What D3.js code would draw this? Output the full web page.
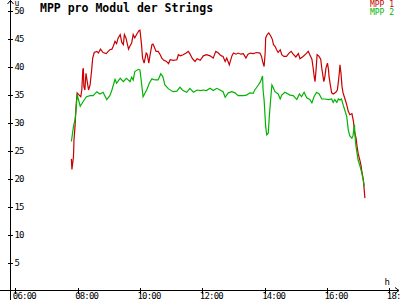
<!DOCTYPE html>
<meta charset="utf-8">
<script src="https://d3js.org/d3.v7.min.js"></script>
<style>
  body { margin: 0; background: #fff; }
  text { font-family: "DejaVu Sans Mono", monospace; }
</style>
<body>
<div id="chart"></div>
<script>
// MPP 1 (red) - times and values
var mpp1Times = ["07:48","07:49","07:52","07:53","07:55","07:57","07:59","08:03","08:06","08:08","08:10","08:11","08:12","08:14","08:16","08:19","08:21","08:24","08:27","08:29","08:32","08:37","08:40","08:44","08:49","08:55","08:59","09:02","09:06","09:09","09:12","09:15","09:18","09:22","09:25","09:28","09:30","09:33","09:36","09:38","09:41","09:44","09:47","09:50","09:54","09:58","10:00","10:03","10:05","10:08","10:12","10:14","10:17","10:19","10:23","10:25","10:27","10:31","10:35","10:39","10:42","10:46","10:51","10:55","10:58","11:04","11:11","11:14","11:18","11:23","11:29","11:33","11:36","11:41","11:46","11:50","11:56","12:02","12:08","12:15","12:21","12:26","12:31","12:34","12:37","12:40","12:44","12:47","12:52","12:57","13:00","13:05","13:09","13:14","13:19","13:24","13:28","13:33","13:38","13:45","13:51","13:54","13:56","13:59","14:01","14:02","14:05","14:08","14:12","14:15","14:17","14:20","14:23","14:26","14:30","14:33","14:37","14:42","14:47","14:51","14:55","15:00","15:05","15:08","15:14","15:20","15:24","15:27","15:31","15:33","15:35","15:37","15:39","15:41","15:44","15:48","15:50","15:52","15:54","15:56","15:58","16:01","16:03","16:04","16:07","16:09","16:12","16:17","16:20","16:22","16:24","16:25","16:27","16:29","16:31","16:35","16:38","16:41","16:44","16:48","16:51","16:53","16:56","16:58","17:00","17:04","17:06","17:07","17:10","17:12","17:13"];
var mpp1Values = [23.5,21.6,23.9,26.9,29.3,32.9,35.3,34.9,34.6,35.8,39.4,39.7,36.4,35.8,38.8,37.0,35.8,36.7,39.4,41.5,42.5,42.7,42.4,43.1,42.5,42.3,42.7,43.0,43.1,43.7,44.5,44.1,45.1,45.7,44.3,43.9,45.7,45.1,43.9,43.1,43.7,44.2,45.7,45.1,45.8,46.4,46.5,43.9,41.5,40.6,42.4,42.2,40.6,41.8,43.9,44.0,43.6,42.7,42.7,42.1,41.5,41.1,40.9,40.5,41.2,41.1,41.2,42.1,41.9,42.1,42.4,42.7,42.3,41.4,40.9,41.4,41.1,41.9,42.1,41.9,41.5,42.7,42.4,42.1,41.9,41.8,40.9,41.5,40.3,41.9,42.4,42.2,42.4,42.2,42.3,41.5,42.2,42.4,42.3,42.5,42.4,41.8,40.9,40.0,42.4,45.1,45.7,46.0,45.4,44.8,43.9,43.6,43.0,42.5,43.0,42.1,41.8,41.8,42.4,42.7,42.2,41.7,42.3,41.4,41.8,42.3,42.7,42.1,41.3,40.0,38.5,37.3,39.4,42.1,41.9,41.3,39.7,38.5,37.3,38.2,39.7,40.6,39.4,38.2,36.4,35.3,35.1,35.4,35.8,37.3,39.1,40.3,38.8,36.4,35.3,34.1,33.2,32.0,31.4,31.6,30.2,28.4,27.2,25.7,24.5,23.0,22.1,21.3,19.8,17.7,16.5];

// MPP 2 (green)
var mpp2Times = ["07:48","07:52","07:55","07:57","07:58","07:59","08:05","08:11","08:17","08:24","08:30","08:37","08:43","08:49","08:56","09:02","09:06","09:12","09:15","09:22","09:28","09:34","09:41","09:44","09:47","09:50","09:57","10:00","10:03","10:06","10:10","10:13","10:18","10:23","10:29","10:35","10:40","10:44","10:48","10:55","11:04","11:11","11:17","11:23","11:30","11:36","11:43","11:50","11:56","12:02","12:08","12:15","12:21","12:28","12:34","12:40","12:44","12:50","12:57","13:03","13:09","13:19","13:25","13:32","13:38","13:41","13:48","13:52","13:56","13:57","13:59","14:02","14:04","14:07","14:09","14:12","14:14","14:17","14:20","14:26","14:30","14:33","14:39","14:49","14:55","15:02","15:07","15:11","15:16","15:21","15:27","15:31","15:35","15:40","15:45","15:50","15:56","16:03","16:09","16:12","16:15","16:19","16:22","16:25","16:28","16:31","16:35","16:38","16:41","16:44","16:48","16:50","16:53","16:54","16:56","16:58","17:00","17:04","17:07","17:10","17:12"];
var mpp2Values = [26.6,29.3,30.5,32.3,33.5,35.0,32.9,33.8,34.6,34.8,34.8,35.5,35.1,35.4,34.1,34.8,35.8,37.7,37.0,37.9,37.3,37.9,37.3,38.1,37.6,39.1,39.5,39.4,37.0,34.6,35.3,35.8,37.0,37.8,37.6,37.6,38.7,38.2,36.7,36.0,35.5,35.6,36.3,35.7,35.4,36.1,35.4,35.8,35.7,35.8,35.7,36.1,35.7,36.1,35.8,35.5,34.5,35.3,35.5,35.3,34.8,34.8,34.9,35.3,35.2,35.8,36.7,37.3,38.3,35.8,34.0,29.3,27.8,28.1,31.1,34.6,36.7,36.1,35.5,35.1,34.2,34.9,35.4,34.9,34.8,34.1,35.1,34.6,35.4,34.4,34.1,33.5,34.6,35.4,35.1,34.2,34.2,34.1,34.2,33.6,34.1,33.6,34.2,34.0,34.2,33.2,32.0,31.1,28.7,27.6,27.2,27.6,29.6,27.5,25.7,24.5,23.3,22.1,21.0,19.6,18.6];

var yTicks = [5,10,15,20,25,30,35,40,45,50];
var xTickLabels = ["06:00","08:00","10:00","12:00","14:00","16:00","18:00"];
var seriesNames = ["MPP 1","MPP 2"];
var seriesColors = ["#c80000","#00b400"];

var parseTime = d3.timeParse("%H:%M");

var svg = d3.select("#chart").append("svg")
  .attr("width", 400).attr("height", 300)
  .style("display", "block");

svg.append("rect").attr("width", 400).attr("height", 300).attr("fill", "#fff");

// scales
var x = d3.scaleTime()
  .domain([parseTime("06:00"), parseTime("18:00")])
  .range([15.3, 389.3]);
var y = d3.scaleLinear()
  .domain([0, 50])
  .range([290.5, 10.5]);

// y axis
var yAxis = svg.append("g")
  .attr("transform", "translate(10.5,0)")
  .attr("shape-rendering", "crispEdges")
  .call(d3.axisRight(y).tickValues(yTicks).tickSize(2).tickPadding(2));
yAxis.select(".domain").remove();
yAxis.selectAll(".tick line").attr("x1", -3).attr("stroke", "#000");
yAxis.selectAll(".tick text")
  .attr("font-size", "9px").attr("letter-spacing", "-0.8px")
  .attr("font-family", "DejaVu Sans Mono").attr("fill", "#000");

// x axis
var xAxis = svg.append("g")
  .attr("transform", "translate(0,290.5)")
  .attr("shape-rendering", "crispEdges")
  .call(d3.axisBottom(x)
    .tickValues(xTickLabels.map(parseTime))
    .tickFormat(function(d, i) { return xTickLabels[i]; })
    .tickSize(3));
xAxis.select(".domain").remove();
xAxis.selectAll(".tick line").attr("y1", -3).attr("stroke", "#000");
xAxis.selectAll(".tick text")
  .attr("text-anchor", "start").attr("x", -3).attr("y", 8.5).attr("dy", 0)
  .attr("font-size", "9px").attr("letter-spacing", "-0.8px")
  .attr("font-family", "DejaVu Sans Mono").attr("fill", "#000");

// axis lines with arrows
svg.append("line").attr("x1", 10.5).attr("x2", 10.5).attr("y1", 0).attr("y2", 300)
  .attr("stroke", "#000").attr("shape-rendering", "crispEdges");
svg.append("path").attr("d", "M7.5,4 L10.5,0.5 L13.5,4").attr("fill", "none").attr("stroke", "#000");
svg.append("line").attr("x1", 0).attr("x2", 399).attr("y1", 290.5).attr("y2", 290.5)
  .attr("stroke", "#000").attr("shape-rendering", "crispEdges");
svg.append("path").attr("d", "M395,287.5 L399,290.5 L395,293.5").attr("fill", "none").attr("stroke", "#000");

// unit labels
svg.append("text").attr("x", 14.5).attr("y", 5.5).attr("font-size", "8px").text("u");
svg.append("text").attr("x", 384.5).attr("y", 284.5).attr("font-size", "9px").text("h");

// title
svg.append("text")
  .attr("x", 40).attr("y", 11.5)
  .attr("font-size", "11.5px").attr("font-weight", "bold")
  .text("MPP pro Modul der Strings");

// series
var series = [
  { times: mpp1Times, values: mpp1Values },
  { times: mpp2Times, values: mpp2Values }
];

var line = d3.line()
  .x(function(d) { return x(d.t); })
  .y(function(d) { return y(d.v); });

series.forEach(function(s, i) {
  var pts = s.times.map(function(t, j) { return { t: parseTime(t), v: s.values[j] }; });
  svg.append("path")
    .datum(pts)
    .attr("fill", "none")
    .attr("stroke", seriesColors[i])
    .attr("stroke-width", 1.2)
    .attr("d", line);
});

// legend
seriesNames.forEach(function(name, i) {
  svg.append("text")
    .attr("x", 394).attr("y", 7 + i * 8)
    .attr("text-anchor", "end")
    .attr("font-size", "8px")
    .attr("fill", seriesColors[i])
    .text(name);
});
</script>
</body>
